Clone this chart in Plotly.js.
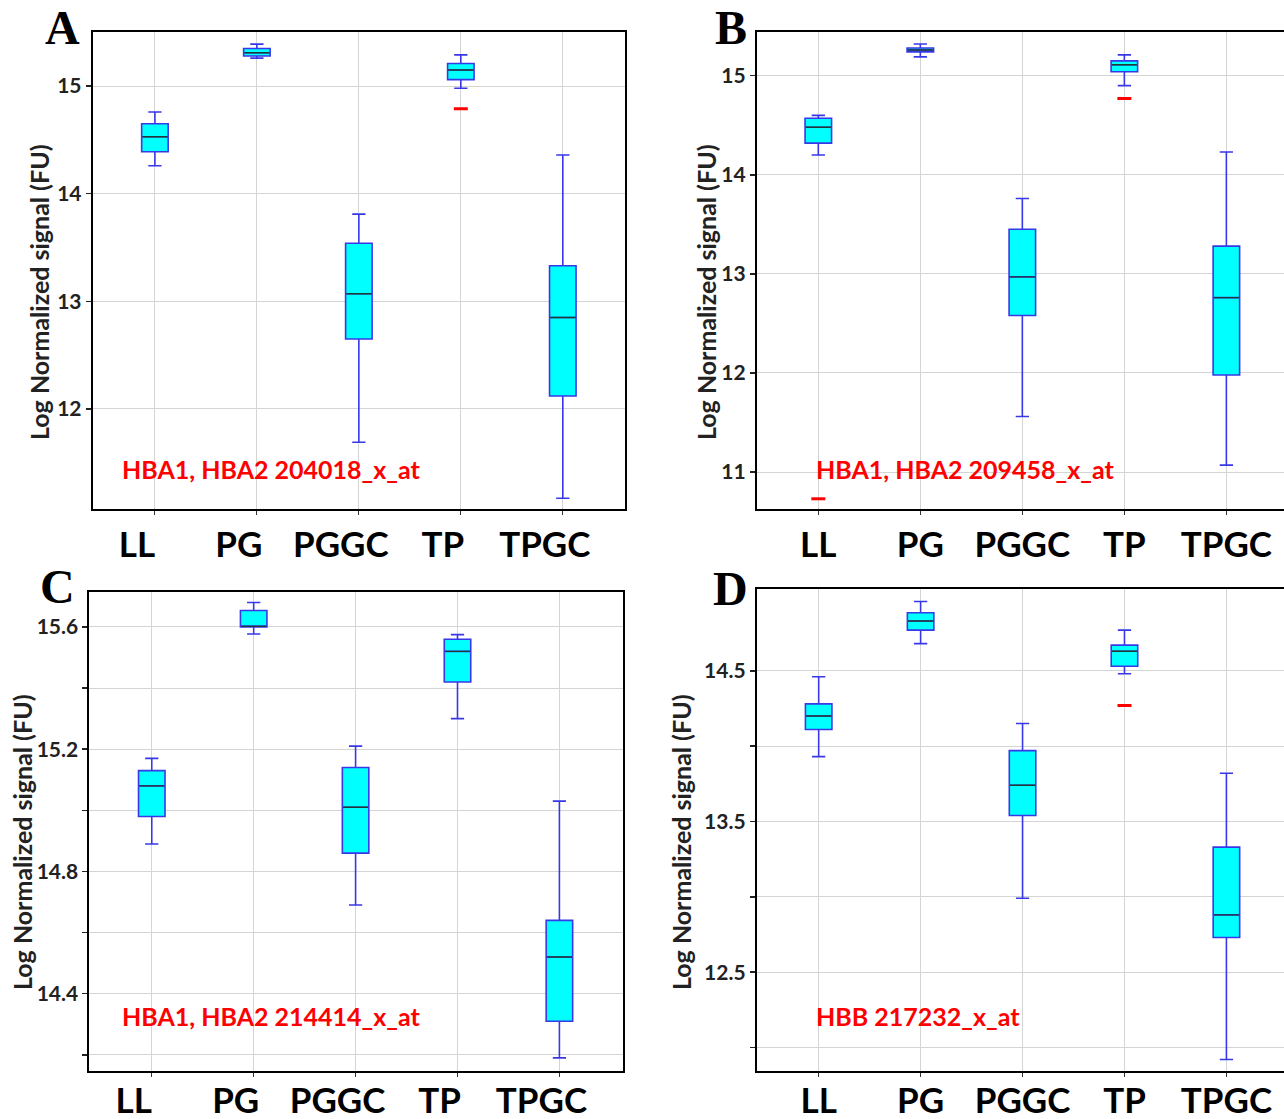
<!DOCTYPE html>
<html><head><meta charset="utf-8">
<script src="https://cdn.plot.ly/plotly-3.0.1.min.js"></script>
<style>html,body{margin:0;padding:0;overflow:hidden;background:#fff;} #chart{width:1300px;height:1119px;}</style>
</head><body><div id="chart"></div>
<script>
const categories = ['LL', 'PG', 'PGGC', 'TP', 'TPGC'];

// Panel A: HBA1, HBA2 204018_x_at
const aUpper  = [14.76, 15.39, 13.81, 15.29, 14.36];
const aQ3     = [14.65, 15.35, 13.54, 15.21, 13.33];
const aMedian = [14.53, 15.31, 13.07, 15.15, 12.85];
const aQ1     = [14.39, 15.28, 12.65, 15.06, 12.12];
const aLower  = [14.26, 15.26, 11.69, 14.98, 11.17];
const aOutX = ['TP'];
const aOutY = [14.79];

// Panel B: HBA1, HBA2 209458_x_at
const bUpper  = [14.60, 15.32, 13.76, 15.21, 14.23];
const bQ3     = [14.57, 15.28, 13.45, 15.15, 13.28];
const bMedian = [14.48, 15.26, 12.97, 15.11, 12.76];
const bQ1     = [14.32, 15.24, 12.58, 15.04, 11.98];
const bLower  = [14.20, 15.19, 11.56, 14.90, 11.07];
const bOutX = ['LL', 'TP'];
const bOutY = [10.73, 14.77];

// Panel C: HBA1, HBA2 214414_x_at
const cUpper  = [15.17, 15.68, 15.21, 15.575, 15.03];
const cQ3     = [15.13, 15.654, 15.14, 15.56, 14.64];
const cMedian = [15.08, 15.602, 15.01, 15.52, 14.52];
const cQ1     = [14.98, 15.60, 14.86, 15.42, 14.31];
const cLower  = [14.89, 15.577, 14.69, 15.30, 14.19];
const cOutX = [];
const cOutY = [];

// Panel D: HBB 217232_x_at
const dUpper  = [14.46, 14.96, 14.15, 14.77, 13.82];
const dQ3     = [14.28, 14.885, 13.97, 14.67, 13.33];
const dMedian = [14.20, 14.83, 13.74, 14.63, 12.88];
const dQ1     = [14.11, 14.77, 13.54, 14.53, 12.73];
const dLower  = [13.93, 14.68, 12.99, 14.48, 11.92];
const dOutX = ['TP'];
const dOutY = [14.27];

const panelLetters = ['A', 'B', 'C', 'D'];
const geneLabels = ['HBA1, HBA2 204018_x_at', 'HBA1, HBA2 209458_x_at', 'HBA1, HBA2 214414_x_at', 'HBB 217232_x_at'];
const yTitle = 'Log Normalized signal (FU)';

const aTicks = [12, 13, 14, 15];
const aTickText = ['12', '13', '14', '15'];
const bTicks = [11, 12, 13, 14, 15];
const bTickText = ['11', '12', '13', '14', '15'];
const cTicks = [14.2, 14.4, 14.6, 14.8, 15.0, 15.2, 15.4, 15.6];
const cTickText = ['', '14.4', '', '14.8', '', '15.2', '', '15.6'];
const dTicks = [12.0, 12.5, 13.0, 13.5, 14.0, 14.5];
const dTickText = ['', '12.5', '', '13.5', '', '14.5'];

const panels = [
  {up: aUpper, q3: aQ3, med: aMedian, q1: aQ1, lo: aLower, ox: aOutX, oy: aOutY},
  {up: bUpper, q3: bQ3, med: bMedian, q1: bQ1, lo: bLower, ox: bOutX, oy: bOutY},
  {up: cUpper, q3: cQ3, med: cMedian, q1: cQ1, lo: cLower, ox: cOutX, oy: cOutY},
  {up: dUpper, q3: dQ3, med: dMedian, q1: dQ1, lo: dLower, ox: dOutX, oy: dOutY}
];

const W = 1300, H = 1119;
const FONT = 'Lato, "Open Sans", sans-serif';
const boxLine = '#3838e8';
const medLine = '#1e3a32';

const traces = [];
panels.forEach((p, i) => {
  const xa = 'x' + (i === 0 ? '' : i + 1);
  const ya = 'y' + (i === 0 ? '' : i + 1);
  traces.push({
    type: 'box', xaxis: xa, yaxis: ya, x: categories,
    q1: p.q1, median: p.med, q3: p.q3, lowerfence: p.lo, upperfence: p.up,
    fillcolor: '#00ffff', line: {color: boxLine, width: 1.6},
    width: 0.26, whiskerwidth: 0.5, boxpoints: false, hoverinfo: 'skip', showlegend: false
  });
  traces.push({
    type: 'box', xaxis: xa, yaxis: ya, x: categories,
    q1: p.med, median: p.med, q3: p.med, lowerfence: p.med, upperfence: p.med,
    fillcolor: 'rgba(0,0,0,0)', line: {color: medLine, width: 1.4},
    width: 0.245, whiskerwidth: 0, boxpoints: false, hoverinfo: 'skip', showlegend: false
  });
  if (p.ox.length) {
    traces.push({
      type: 'scatter', mode: 'markers', xaxis: xa, yaxis: ya, x: p.ox, y: p.oy,
      marker: {symbol: 'line-ew', size: 10, line: {color: '#ff0000', width: 3}},
      hoverinfo: 'skip', showlegend: false
    });
  }
});

function xaxis(dom, range, shift, anchor, standoff) {
  return {
    domain: dom, anchor: anchor, type: 'category', categoryorder: 'array', categoryarray: categories,
    range: range, showgrid: true, gridcolor: '#d4d4d4', gridwidth: 1,
    showline: true, mirror: true, linecolor: '#000', linewidth: 2,
    ticks: 'outside', ticklen: 4, tickcolor: '#333', tickwidth: 1,
    tickfont: {family: FONT, size: 35, color: '#000', weight: 'bold'},
    ticklabelshift: shift, ticklabelstandoff: standoff, zeroline: false, fixedrange: true
  };
}
function yaxis(dom, range, vals, text, anchor) {
  return {
    domain: dom, anchor: anchor, range: range, tickmode: 'array', tickvals: vals, ticktext: text,
    showgrid: true, gridcolor: '#d4d4d4', gridwidth: 1,
    showline: true, mirror: true, linecolor: '#000', linewidth: 2,
    ticks: 'outside', ticklen: 5, tickcolor: '#222', tickwidth: 1.5,
    tickfont: {family: FONT, size: 21, color: '#222', weight: 'bold'},
    zeroline: false, fixedrange: true
  };
}

const pxX = v => v / W;
const pxY = v => 1 - v / H;

const layout = {
  width: W, height: H, margin: {l: 0, r: 0, t: 0, b: 0},
  paper_bgcolor: '#fff', plot_bgcolor: '#fff', showlegend: false, boxmode: 'overlay',
  xaxis:  xaxis([pxX(92.7), pxX(625)], [-0.61, 4.61], -18, 'y', 0),
  yaxis:  yaxis([pxY(509), pxY(32.3)], [11.07, 15.5], aTicks, aTickText, 'x'),
  xaxis2: xaxis([pxX(756.8), pxX(1288.6)], [-0.603, 4.61], 0, 'y2', 0),
  yaxis2: yaxis([pxY(509), pxY(32.3)], [10.627, 15.438], bTicks, bTickText, 'x2'),
  xaxis3: xaxis([pxX(89.4), pxX(623)], [-0.612, 4.624], -18, 'y3', -6),
  yaxis3: yaxis([pxY(1070.7), pxY(591.5)], [14.148, 15.716], cTicks, cTickText, 'x3'),
  xaxis4: xaxis([pxX(756.8), pxX(1288.6)], [-0.607, 4.61], 0, 'y4', -6),
  yaxis4: yaxis([pxY(1070.7), pxY(589.4)], [11.846, 15.04], dTicks, dTickText, 'x4'),
  annotations: []
};

const letterPos = [[62.5, 27], [731, 27], [57, 586], [730, 588]];
const titlePos = [[39, 292], [706, 292], [22, 842], [681, 842]];
const genePos = [[120, 469], [814, 469], [120, 1016], [814, 1016]];
for (let i = 0; i < 4; i++) {
  layout.annotations.push({
    xref: 'paper', yref: 'paper', x: pxX(letterPos[i][0]), y: pxY(letterPos[i][1]),
    xanchor: 'center', yanchor: 'middle', showarrow: false, text: panelLetters[i],
    font: {family: '"Liberation Serif", "Times New Roman", serif', size: 48, color: '#000', weight: 'bold'}
  });
  layout.annotations.push({
    xref: 'paper', yref: 'paper', x: pxX(titlePos[i][0]), y: pxY(titlePos[i][1]),
    xanchor: 'center', yanchor: 'middle', showarrow: false, text: yTitle, textangle: -90,
    font: {family: FONT, size: 25, color: '#222', weight: 'bold'}
  });
  layout.annotations.push({
    xref: 'paper', yref: 'paper', x: pxX(genePos[i][0]), y: pxY(genePos[i][1]),
    xanchor: 'left', yanchor: 'middle', showarrow: false, text: geneLabels[i],
    font: {family: FONT, size: 25, color: '#ff0000', weight: 'bold'}
  });
}

Plotly.newPlot('chart', traces, layout, {staticPlot: true, displayModeBar: false});
</script>
</body></html>
